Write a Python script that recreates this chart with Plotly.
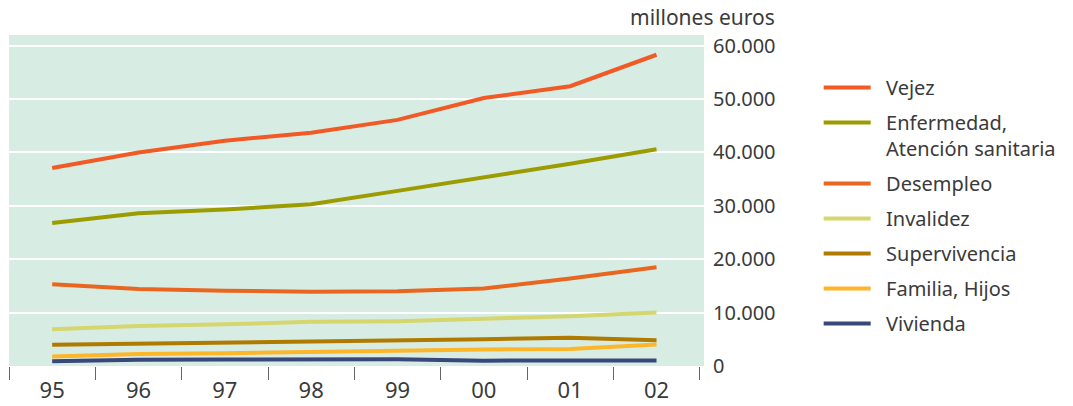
import plotly.graph_objects as go

years = ["95", "96", "97", "98", "99", "00", "01", "02"]

vejez = [37100, 40000, 42200, 43700, 46100, 50200, 52400, 58300]
enfermedad = [26800, 28600, 29300, 30300, 32800, 35300, 37900, 40600]
desempleo = [15300, 14400, 14100, 13900, 14000, 14500, 16400, 18500]
invalidez = [6900, 7500, 7800, 8300, 8400, 8900, 9300, 10000]
supervivencia = [4000, 4200, 4350, 4550, 4700, 5000, 5300, 4800]
familia = [1800, 2250, 2400, 2650, 2800, 3100, 3200, 4050]
vivienda = [900, 1150, 1200, 1250, 1250, 1000, 1000, 1050]

series_names = ["Vejez", "Enfermedad,<br>Atención sanitaria", "Desempleo", "Invalidez",
                "Supervivencia", "Familia, Hijos", "Vivienda"]
series_values = [vejez, enfermedad, desempleo, invalidez, supervivencia, familia, vivienda]
colors = ["#F15A24", "#9C9C00", "#E8661F", "#D5D66E", "#B07A00", "#FDB62A", "#39477A"]

y_ticks = [0, 10000, 20000, 30000, 40000, 50000, 60000]
y_labels = ["0", "10.000", "20.000", "30.000", "40.000", "50.000", "60.000"]

FONT = "Noto Sans"
TXT = "#3a3a3a"
PAD = "\u00a0\u00a0"

fig = go.Figure()
for i, (name, vals, col) in enumerate(zip(series_names, series_values, colors)):
    fig.add_trace(go.Scatter(
        x=years, y=vals, name=PAD + name.replace("<br>", "<br>" + PAD), mode="lines",
        line=dict(color=col, width=4),
        legendgroup=f"g{i}",
    ))

fig.update_layout(
    width=1073, height=406,
    margin=dict(l=9, r=369, t=35, b=40),
    paper_bgcolor="white",
    plot_bgcolor="#D7EDE4",
    font=dict(family=FONT, color=TXT, size=18),
    showlegend=True,
    legend=dict(
        x=1.165, y=0.90, xanchor="left", yanchor="top",
        font=dict(family=FONT, size=20, color=TXT),
        traceorder="grouped", tracegroupgap=6,
        itemwidth=47, valign="top",
        bgcolor="rgba(0,0,0,0)",
    ),
    xaxis=dict(
        type="category",
        range=[-0.5, 7.55],
        tickson="boundaries",
        ticks="outside", ticklen=13, tickwidth=1, tickcolor="#666",
        showgrid=False, zeroline=False, showline=False,
        ticklabelstandoff=9,
        automargin=False,
        tickfont=dict(family=FONT, size=22, color=TXT),
    ),
    yaxis=dict(
        side="right",
        range=[0, 62000],
        tickvals=y_ticks, ticktext=y_labels,
        showgrid=True, gridcolor="white", gridwidth=2,
        zeroline=False, showline=False, ticks="",
        ticklabelstandoff=8,
        automargin=False,
        tickfont=dict(family=FONT, size=20, color=TXT),
    ),
    annotations=[dict(
        text="millones euros", xref="paper", yref="paper",
        x=1.1045, y=1.0, xanchor="right", yanchor="bottom", yshift=2,
        showarrow=False, font=dict(family=FONT, size=21, color=TXT),
    )],
)

fig.write_html("out.html", config={"displayModeBar": False},
               post_script="document.body.style.margin='0';")
